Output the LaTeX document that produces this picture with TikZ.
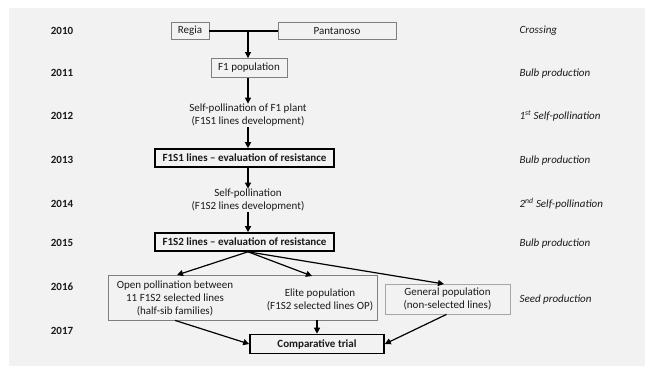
\documentclass[tikz,border=0pt]{standalone}
\usepackage{fontspec}
\setmainfont{Carlito}
\usetikzlibrary{arrows.meta}
\definecolor{bgc}{HTML}{F2F2F2}
\definecolor{thingray}{HTML}{7F7F7F}
\definecolor{lightgray2}{HTML}{A6A6A6}
\definecolor{txt}{HTML}{1A1A1A}
\begin{document}
\begin{tikzpicture}[x=1pt,y=-1pt,
  font=\fontsize{11}{13}\selectfont, text=txt,
  year/.style={font=\fontsize{11}{13}\selectfont\bfseries},
  phase/.style={anchor=west, font=\fontsize{11}{13}\selectfont\itshape},
  thinbox/.style={draw=thingray, line width=0.8pt, inner sep=0pt, minimum height=17pt},
  boldbox/.style={draw=black, line width=1.6pt, inner sep=0pt, minimum height=18pt, font=\fontsize{11}{13}\selectfont\bfseries},
  plain/.style={align=center, inner sep=1pt},
  arr/.style={line width=1.2pt, -{Triangle[length=6pt,width=6pt]}}
]
\useasboundingbox (0,0) rectangle (645,369);
\fill[bgc] (9,8) rectangle (645,366);

% years
\node[year] (y10) at (62,31) {2010};
\node[year] (y11) at (62,73) {2011};
\node[year] (y12) at (62,116) {2012};
\node[year] (y13) at (62,160) {2013};
\node[year] (y14) at (62,204) {2014};
\node[year] (y15) at (62,243) {2015};
\node[year] (y16) at (62,287) {2016};
\node[year] (y17) at (62,331) {2017};

% phases
\node[phase] (p10) at (516,31) {Crossing};
\node[phase] (p11) at (516,74) {Bulb production};
\node[phase] (p12) at (516,116) {1\textsuperscript{st} Self-pollination};
\node[phase] (p13) at (516,161) {Bulb production};
\node[phase] (p14) at (516,204) {2\textsuperscript{nd} Self-pollination};
\node[phase] (p15) at (516,244) {Bulb production};
\node[phase] (p16) at (516,300) {Seed production};

% flow
\node[thinbox, minimum width=38pt] (regia) at (190,31) {Regia};
\node[thinbox, minimum width=118pt] (pant) at (337,31) {Pantanoso};
\coordinate (j) at (248,31);
\node[thinbox, minimum width=76pt, minimum height=19pt] (f1) at (249,68) {F1 population};
\node[plain] (sp1) at (248,115) {Self-pollination of F1 plant\\(F1S1 lines development)};
\node[boldbox, minimum width=179pt] (f1s1) at (244.5,158) {F1S1 lines -- evaluation of resistance};
\node[plain] (sp2) at (248,200) {Self-pollination\\(F1S2 lines development)};
\node[boldbox, minimum width=179pt] (f1s2) at (244.5,242) {F1S2 lines -- evaluation of resistance};

\node[draw=thingray, line width=0.8pt, minimum width=269pt, minimum height=45pt, inner sep=0pt] (big) at (242.5,297.5) {};
\node[plain] (open) at (175,298) {Open pollination between\\11 F1S2 selected lines\\(half-sib families)};
\node[plain] (elite) at (320,299.5) {Elite population\\(F1S2 selected lines OP)};
\node[draw=lightgray2, line width=0.8pt, minimum width=125pt, minimum height=30pt, inner sep=0pt, align=center] (gen) at (447.5,299) {General population\\(non-selected lines)};
\node[boldbox, minimum width=134pt, minimum height=19pt] (comp) at (317,344) {Comparative trial};

\coordinate (t1) at (177,275);
\coordinate (t2) at (312,276);
\coordinate (t3) at (444,284);

\draw[line width=1.8pt] (regia.east) -- (pant.west);
\draw[arr] (j) -- (f1.north -| j);
\draw[arr] (f1.south -| j) -- ([yshift=-1pt]sp1.north -| j);
\draw[arr] (sp1.south -| j) -- (f1s1.north -| j);
\draw[arr] (f1s1.south -| j) -- ([yshift=-1pt]sp2.north -| j);
\draw[arr] (sp2.south -| j) -- (f1s2.north -| j);
\draw[arr] (f1s2.south -| j) -- (t1);
\draw[arr] (f1s2.south -| j) -- (t2);
\draw[arr] (f1s2.south -| j) -- (t3);
\draw[arr] (big.south -| open) -- (comp.west);
\draw[arr] (big.south -| comp.north) -- (comp.north);
\draw[arr] ([xshift=-1pt]gen.south) -- (comp.east);
\end{tikzpicture}
\end{document}
